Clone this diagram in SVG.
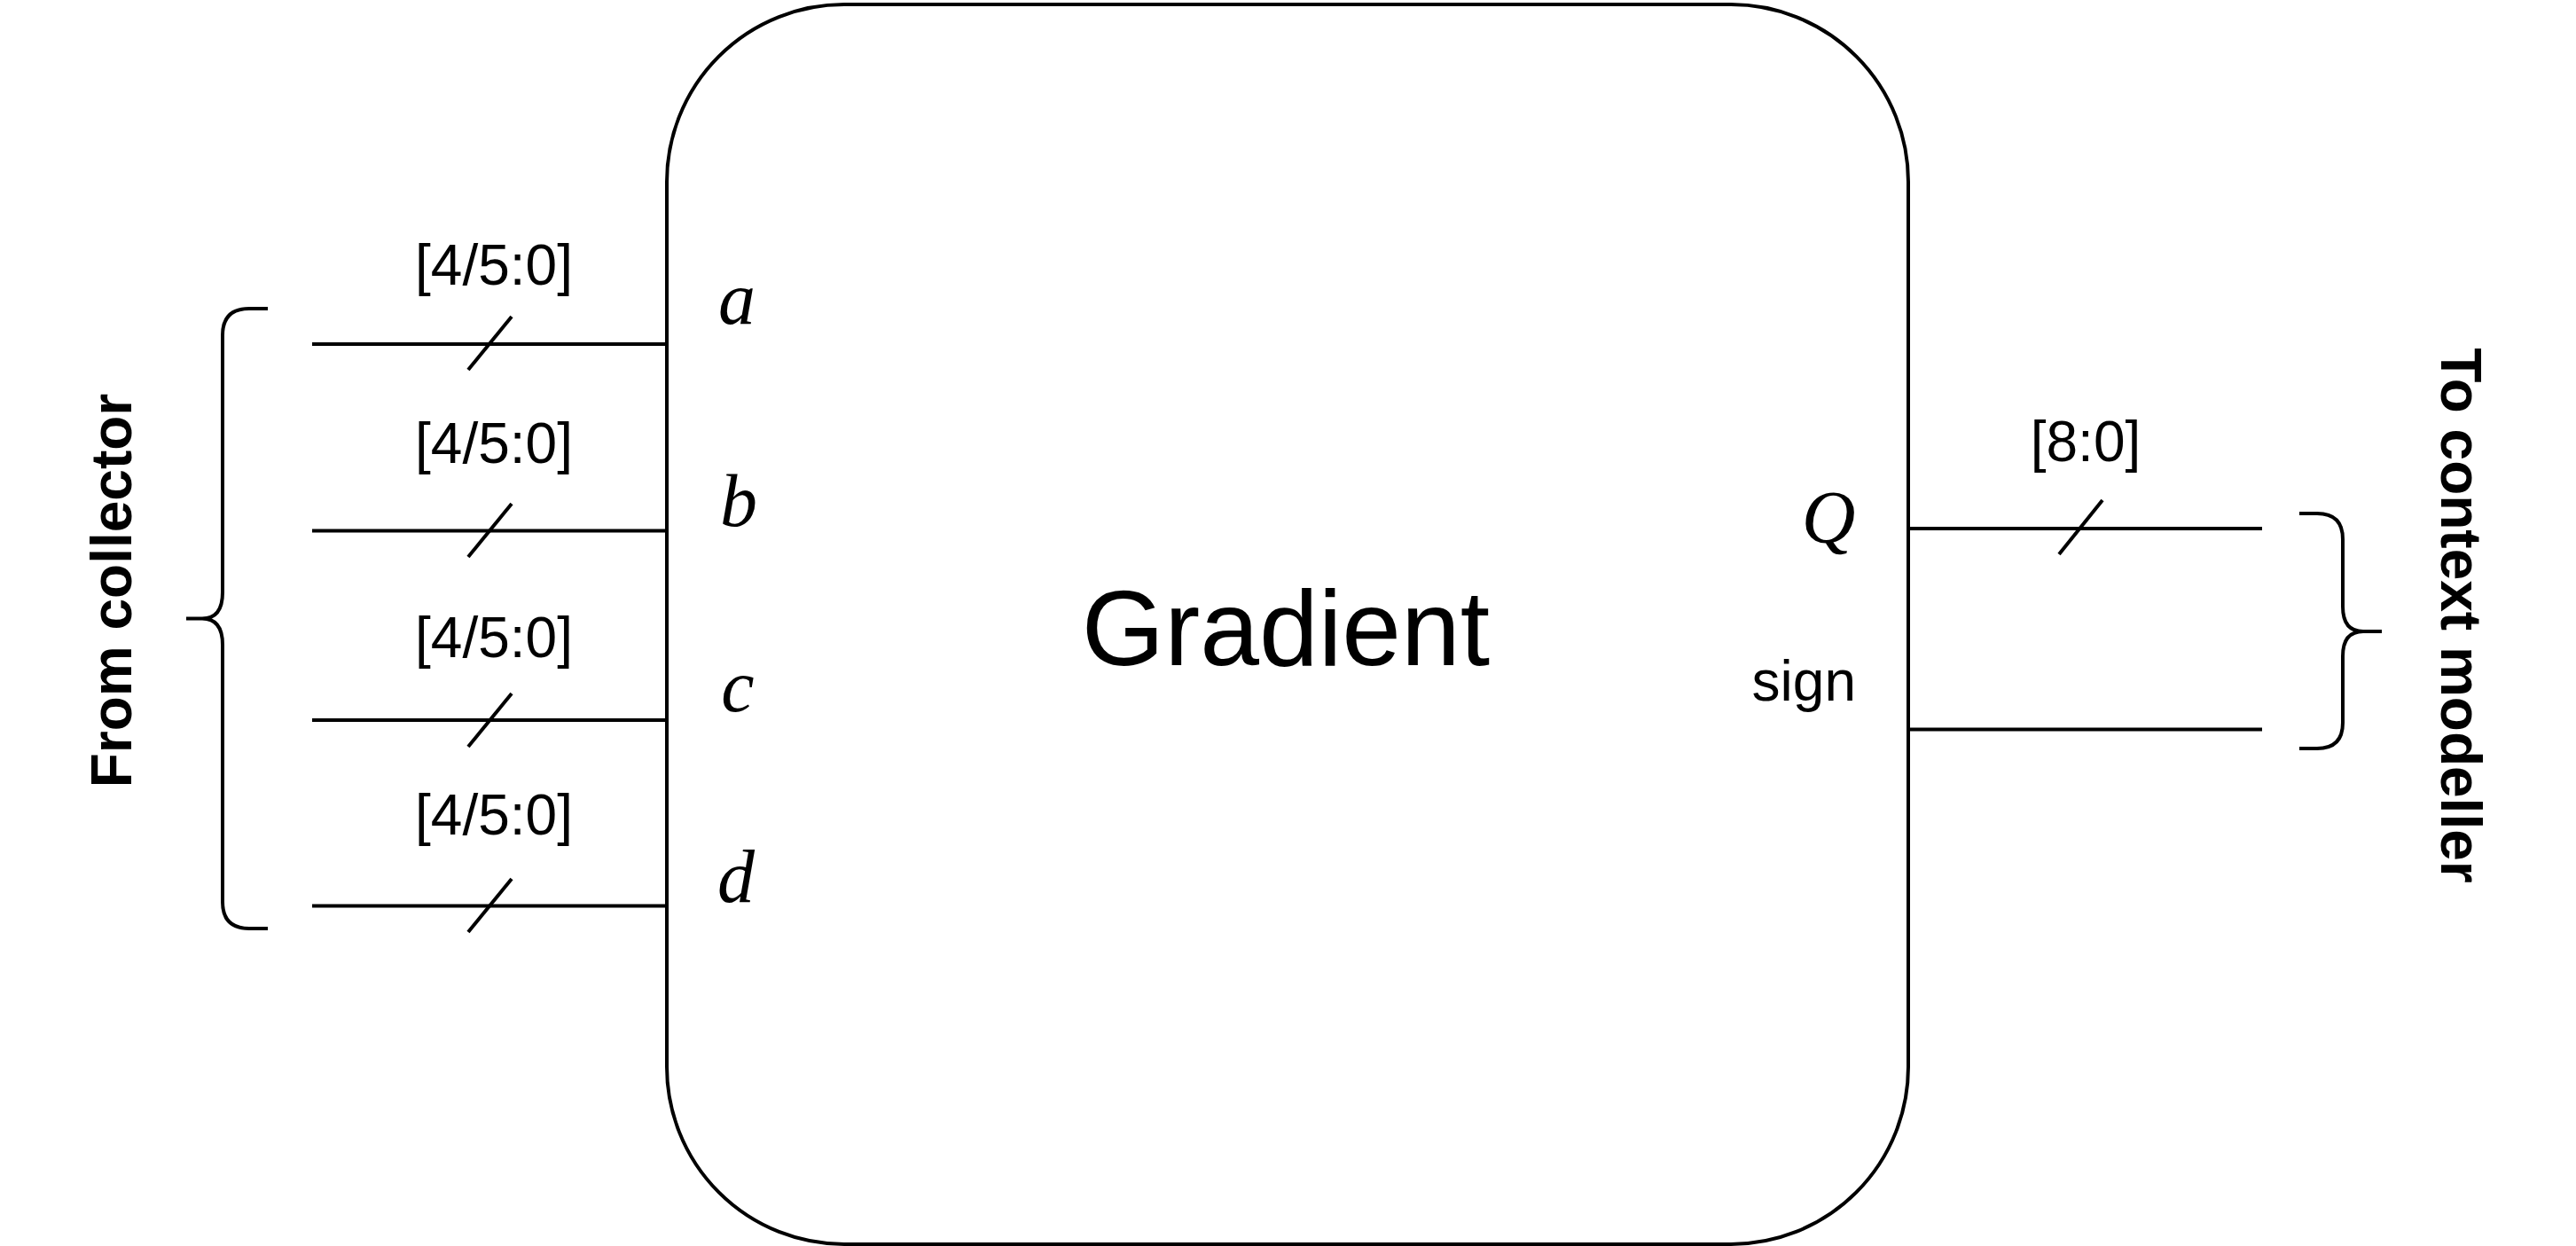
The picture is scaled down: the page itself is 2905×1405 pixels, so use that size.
<svg xmlns="http://www.w3.org/2000/svg" width="2905" height="1405" viewBox="0 0 2905 1405">
<style>
.s{fill:none;stroke:#000;stroke-width:4}
.lbl{font-family:"Liberation Sans",Arial,sans-serif;font-size:64px;fill:#000}
.side{font-family:"Liberation Sans",Arial,sans-serif;font-size:64px;font-weight:bold;fill:#000;text-anchor:middle}
.m{font-family:"Liberation Serif","Times New Roman",serif;font-style:italic;font-size:84px;fill:#000;text-anchor:middle}
</style>
<rect width="2905" height="1405" fill="#fff"/>
<g id="gradient">
<rect class="s" x="752" y="5" width="1400" height="1398" rx="200" ry="200"/>
<text x="1450" y="750" style="font-family:'Liberation Sans',Arial,sans-serif;font-size:120px;fill:#000;text-anchor:middle">Gradient</text>
<text class="m" x="831" y="365">a</text>
<text class="m" x="833" y="593">b</text>
<text class="m" x="832" y="802">c</text>
<text class="m" x="830" y="1017">d</text>
<text class="m" x="2062" y="612">Q</text>
<text class="lbl" x="2093" y="790" text-anchor="end">sign</text>
</g>
<g id="connectors">
<line class="s" x1="352" y1="388" x2="752" y2="388"/>
<line class="s" x1="528" y1="417" x2="577" y2="357"/>
<line class="s" x1="352" y1="598.5" x2="752" y2="598.5"/>
<line class="s" x1="528" y1="628" x2="577" y2="568"/>
<line class="s" x1="352" y1="812" x2="752" y2="812"/>
<line class="s" x1="528" y1="842" x2="577" y2="782"/>
<line class="s" x1="352" y1="1021.5" x2="752" y2="1021.5"/>
<line class="s" x1="528" y1="1051" x2="577" y2="991"/>
<line class="s" x1="2152" y1="596" x2="2551" y2="596"/>
<line class="s" x1="2322" y1="625" x2="2371" y2="564"/>
<line class="s" x1="2152" y1="822.5" x2="2551" y2="822.5"/>
</g>
<g id="bus-labels">
<text class="lbl" x="557" y="320.7" text-anchor="middle">[4/5:0]</text>
<text class="lbl" x="557" y="521.7" text-anchor="middle">[4/5:0]</text>
<text class="lbl" x="557" y="740.7" text-anchor="middle">[4/5:0]</text>
<text class="lbl" x="557" y="940.7" text-anchor="middle">[4/5:0]</text>
<text class="lbl" x="2352" y="520" text-anchor="middle">[8:0]</text>
</g>
<g id="from-collector">
<path class="s" d="M302,348 L281,348 Q251,348 251,378 L251,668 Q251,697.5 228,697.5 L210,697.5 M228,697.5 Q251,697.5 251,727 L251,1017 Q251,1047 281,1047 L302,1047"/>
<text class="side" transform="translate(148,666) rotate(-90)">From collector</text>
</g>
<g id="to-context-modeller">
<path class="s" d="M2593,579 L2613,579 Q2642,579 2642,608 L2642,684 Q2642,712 2665,712 L2686,712 M2665,712 Q2642,712 2642,740 L2642,815 Q2642,844 2613,844 L2593,844"/>
<text class="side" transform="translate(2753,694) rotate(90)">To context modeller</text>
</g>
</svg>
